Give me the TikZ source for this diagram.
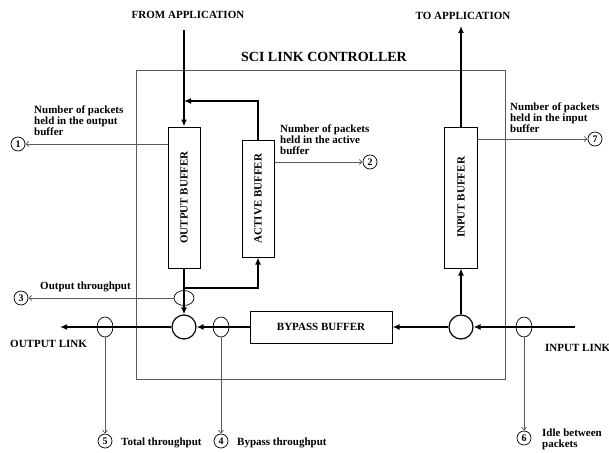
\documentclass[tikz,border=0pt]{standalone}
\usepackage{fontspec}
\setmainfont{Liberation Serif}
\usetikzlibrary{positioning,arrows.meta,shapes.geometric}

\begin{document}
\begin{tikzpicture}[
    x=1pt, y=-1pt,
    every node/.style={font=\fontsize{11}{11}\selectfont\bfseries},
    buffer/.style={
        rectangle,
        draw,
        line width=1pt,
        inner sep=0pt
    },
    junction/.style={
        circle,
        draw,
        line width=1.2pt,
        minimum size=24pt,
        inner sep=0pt
    },
    probe/.style={
        ellipse,
        draw,
        line width=0.7pt,
        inner sep=0pt
    },
    counter/.style={
        circle,
        draw,
        line width=0.7pt,
        minimum size=14pt,
        inner sep=0pt,
        font=\fontsize{10}{10}\selectfont\bfseries
    },
    note/.style={
        align=left,
        anchor=north west,
        inner sep=0pt
    },
    flow/.style={line width=1.8pt, -{Latex[length=7pt,width=6pt]}},
    tap/.style={draw=black!65, line width=0.7pt, -{Straight Barb[length=3pt,width=5pt]}}
]

\useasboundingbox (0,0) rectangle (609,452);

\node[draw=black!65, line width=0.8pt, minimum width=369pt, minimum height=309pt] (ctrl) at (320.5,224.5) {};
\node[font=\fontsize{14}{14}\selectfont\bfseries] (title) at (324,57) {SCI LINK CONTROLLER};

\node[buffer, minimum width=32pt, minimum height=141pt] (outbuf) at (184,197.5)
{\rotatebox{90}{OUTPUT BUFFER}};

\node[buffer, minimum width=32pt, minimum height=117pt] (actbuf) at (258,198.5)
{\rotatebox{90}{ACTIVE BUFFER}};

\node[buffer, minimum width=33pt, minimum height=141pt] (inbuf) at (461,197.5)
{\rotatebox{90}{INPUT BUFFER}};

\node[buffer, minimum width=142pt, minimum height=32pt] (bypass) at (321,327)
{BYPASS BUFFER};

\node[junction] (mux) at (184,327) {};
\node[junction] (demux) at (461,327) {};

\node (fromapp) at (188,15) {FROM APPLICATION};
\node (toapp) at (463,16) {TO APPLICATION};

\coordinate (src) at (184,30);
\coordinate (dst) at (461,26);
\coordinate (join) at (184,101);
\coordinate (split) at (184,288);
\coordinate (linkout) at (60,327);
\coordinate (linkin) at (575,327);

\draw[flow] (src) -- (outbuf.north);
\draw[flow] (actbuf.north) |- (join);
\draw[flow] (outbuf.south) -- (mux.north);
\draw[flow] (split) -| (actbuf.south);
\draw[flow] (mux.west) -- (linkout);
\draw[flow] (bypass.west) -- (mux.east);
\draw[flow] (demux.west) -- (bypass.east);
\draw[flow] (demux.north) -- (inbuf.south);
\draw[flow] (linkin) -- (demux.east);
\draw[flow] (inbuf.north) -- (dst);

\node[probe, minimum width=20pt, minimum height=15pt] (pout) at (184,298) {};
\node[probe, minimum width=16pt, minimum height=20pt] (ptotal) at (105,327) {};
\node[probe, minimum width=16pt, minimum height=20pt] (pbypass) at (221,327) {};
\node[probe, minimum width=16pt, minimum height=20pt] (pidle) at (524,327) {};

\node[counter] (c1) at (18,144) {1};
\node[counter] (c2) at (370,162) {2};
\node[counter] (c3) at (21,298) {3};
\node[counter] (c4) at (221,441) {4};
\node[counter] (c5) at (105,441) {5};
\node[counter] (c6) at (524,438) {6};
\node[counter] (c7) at (595,139) {7};

\draw[tap] (outbuf.west |- c1) -- (c1);
\draw[tap] (actbuf.east |- c2) -- (c2);
\draw[tap] (inbuf.east |- c7) -- (c7);
\draw[tap] (pout.west) -- (c3);
\draw[tap] (ptotal.south) -- (c5);
\draw[tap] (pbypass.south) -- (c4);
\draw[tap] (pidle.south) -- (c6);

\node[note] (nout) at (34,106) {Number of packets\\held in the output\\buffer};
\node[note] (nact) at (280,125) {Number of packets\\held in the active\\buffer};
\node[note] (nin) at (510,103) {Number of packets\\held in the input\\buffer};
\node[note] (nidle) at (542,429) {Idle between\\packets};

\node[anchor=base west, inner sep=0pt] (nthr) at (40,289) {Output throughput};
\node[anchor=base west, inner sep=0pt] (ntotal) at (121,445) {Total throughput};
\node[anchor=base west, inner sep=0pt] (nbypass) at (237,445) {Bypass throughput};
\node[anchor=base west, inner sep=0pt] (outlink) at (10,347) {OUTPUT LINK};
\node[anchor=base west, inner sep=0pt] (inlink) at (545,351) {INPUT LINK};

\end{tikzpicture}
\end{document}
